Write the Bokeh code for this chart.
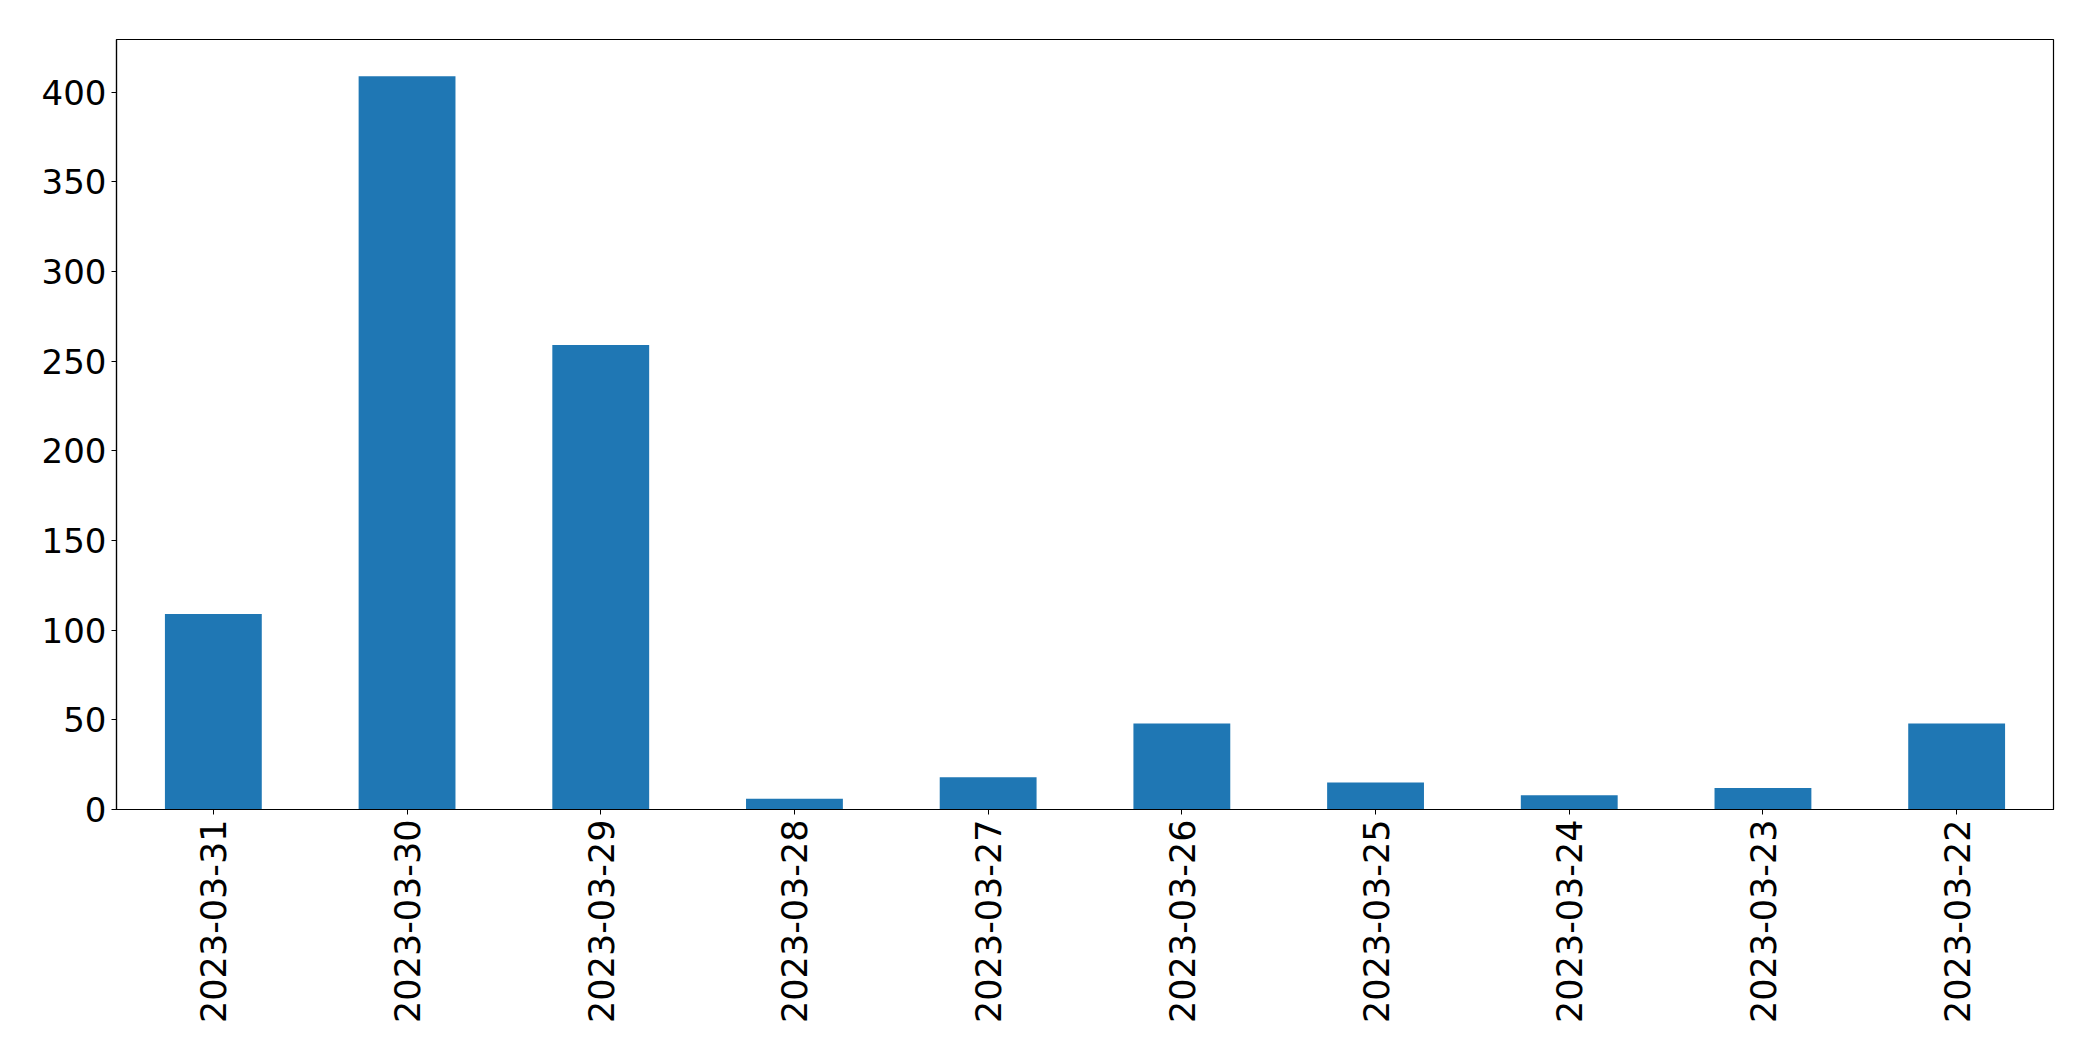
import math
from bokeh.plotting import figure
from bokeh.models import Range1d, FixedTicker, ColumnDataSource
from bokeh.embed import file_html
from bokeh.resources import INLINE

dates = ["2023-03-31", "2023-03-30", "2023-03-29", "2023-03-28", "2023-03-27",
         "2023-03-26", "2023-03-25", "2023-03-24", "2023-03-23", "2023-03-22"]
counts = [109, 409, 259, 6, 18, 48, 15, 8, 12, 48]
y_ticks = [0, 50, 100, 150, 200, 250, 300, 350, 400]

source = ColumnDataSource(dict(date=dates, count=counts))

p = figure(x_range=dates, y_range=Range1d(0, max(counts) * 1.05),
           width=2077, height=1045, output_backend="svg", toolbar_location=None,
           min_border_left=116, min_border_right=24, min_border_top=39, min_border_bottom=236)

p.vbar(x="date", top="count", width=0.5, source=source, color="#1f77b4", line_color=None)

p.xgrid.visible = False
p.ygrid.visible = False
p.outline_line_color = "black"
p.outline_line_width = 1.2
p.background_fill_color = "white"
p.border_fill_color = "white"

for ax in (p.xaxis[0], p.yaxis[0]):
    ax.axis_line_color = "black"
    ax.axis_line_width = 1.2
    ax.major_tick_line_color = "black"
    ax.major_tick_line_width = 1
    ax.major_tick_out = 5
    ax.major_tick_in = 0
    ax.minor_tick_line_color = None
    ax.major_label_text_font = "DejaVu Sans"
    ax.major_label_text_color = "black"
    ax.major_label_standoff = 5

p.yaxis[0].major_label_text_font_size = "34px"
p.xaxis[0].major_label_text_font_size = "35px"
p.yaxis[0].ticker = FixedTicker(ticks=y_ticks)
p.xaxis[0].major_label_orientation = math.pi / 2
p.x_range.range_padding = 0

open("out.html", "w").write(file_html(p, INLINE))
